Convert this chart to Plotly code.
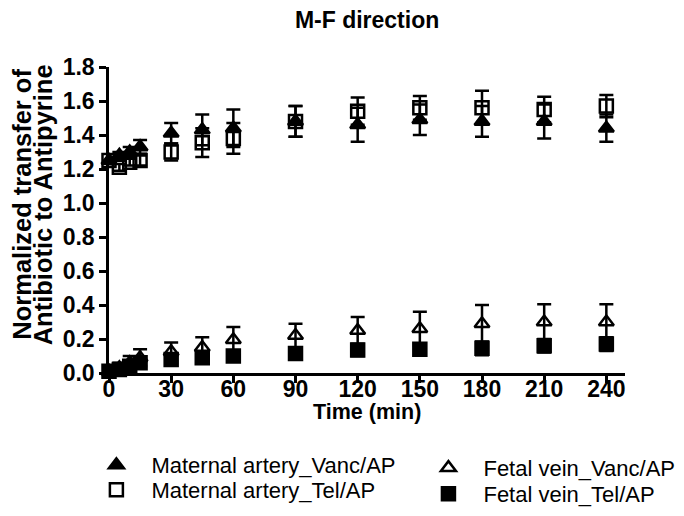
import plotly.graph_objects as go

# sampling times (min)
time_min = [0, 5, 10, 15, 30, 45, 60, 90, 120, 150, 180, 210, 240]

# Maternal artery, vancomycin / antipyrine
ma_vanc = [1.25, 1.28, 1.30, 1.33, 1.41, 1.43, 1.44, 1.48, 1.46, 1.49, 1.48, 1.48, 1.44]
ma_vanc_sd = [0.02, 0.02, 0.03, 0.04, 0.06, 0.09, 0.11, 0.09, 0.10, 0.09, 0.09, 0.10, 0.08]

# Maternal artery, telavancin / antipyrine
ma_tel = [1.25, 1.21, 1.24, 1.25, 1.30, 1.355, 1.38, 1.48, 1.54, 1.56, 1.56, 1.55, 1.57]
ma_tel_sd = [0.02, 0.02, 0.02, 0.03, 0.05, 0.085, 0.09, 0.09, 0.08, 0.07, 0.10, 0.075, 0.065]

# Fetal vein, vancomycin / antipyrine
fv_vanc = [0.01, 0.03, 0.06, 0.09, 0.125, 0.15, 0.195, 0.22, 0.25, 0.26, 0.29, 0.30, 0.30]
fv_vanc_sd = [0.01, 0.03, 0.04, 0.05, 0.055, 0.06, 0.075, 0.07, 0.08, 0.10, 0.11, 0.105, 0.105]

# Fetal vein, telavancin / antipyrine
fv_tel = [0.01, 0.02, 0.04, 0.06, 0.08, 0.09, 0.10, 0.115, 0.135, 0.14, 0.145, 0.16, 0.17]
fv_tel_sd = [0.01, 0.01, 0.02, 0.02, 0.025, 0.025, 0.03, 0.03, 0.035, 0.035, 0.04, 0.04, 0.04]

FONT = "Arial, Liberation Sans, sans-serif"

# (name, values, sd, symbol, legend id)
series = [
    ("Maternal artery_Vanc/AP", ma_vanc, ma_vanc_sd, "triangle-up", "legend"),
    ("Maternal artery_Tel/AP", ma_tel, ma_tel_sd, "square-open", "legend2"),
    ("Fetal vein_Vanc/AP", fv_vanc, fv_vanc_sd, "triangle-up-open", "legend3"),
    ("Fetal vein_Tel/AP", fv_tel, fv_tel_sd, "square", "legend4"),
]

fig = go.Figure()
for name, vals, sd, sym, leg in series:
    fig.add_trace(go.Scatter(
        x=time_min, y=vals, name=name, mode="markers",
        marker=dict(symbol=sym, size=13, color="black",
                    line=dict(color="black", width=2.5)),
        error_y=dict(type="data", array=sd, color="black", thickness=2.5, width=7),
        cliponaxis=False, legend=leg,
    ))

axis_common = dict(
    showline=True, linecolor="black", linewidth=2.5,
    ticks="outside", ticklen=7, tickwidth=2.5, tickcolor="black",
    tickfont=dict(size=23, family=FONT, weight="bold"),
    showgrid=False, zeroline=False,
)


def one_legend(x, y, itemwidth):
    return dict(x=x, y=y, xanchor="left", yanchor="middle", itemwidth=itemwidth,
                font=dict(size=22, family=FONT), tracegroupgap=0,
                bgcolor="rgba(0,0,0,0)")


# the page puts the figure 8px in from the top-left corner
fig.update_layout(
    width=684, height=516, showlegend=True,
    paper_bgcolor="white", plot_bgcolor="white",
    margin=dict(l=101, r=67, t=59, b=151, autoexpand=False),
    font=dict(family=FONT, color="black"),
    title=dict(text="<b>M-F direction</b>", x=0.525, xanchor="center",
               y=0.977, yanchor="middle", font=dict(size=23)),
    xaxis=dict(range=[0, 249], tickvals=[0, 30, 60, 90, 120, 150, 180, 210, 240],
               ticklabelstandoff=-13, **axis_common),
    yaxis=dict(range=[0, 1.8], tickvals=[0, 0.2, 0.4, 0.6, 0.8, 1.0, 1.2, 1.4, 1.6, 1.8],
               tickformat=".1f", **axis_common),
    legend=one_legend(-0.0535, -0.301, 60),
    legend2=one_legend(-0.0535, -0.382, 60),
    legend3=one_legend(0.590, -0.310, 60),
    legend4=one_legend(0.590, -0.395, 60),
    annotations=[
        dict(text="<b>Normalized transfer of</b>",
             xref="paper", yref="paper", x=-0.168, y=0.551, textangle=-90,
             xanchor="center", yanchor="middle", showarrow=False,
             font=dict(size=25.5)),
        dict(text="<b>Antibiotic to Antipyrine</b>",
             xref="paper", yref="paper", x=-0.128, y=0.551, textangle=-90,
             xanchor="center", yanchor="middle", showarrow=False,
             font=dict(size=25.5)),
        dict(text="<b>Time (min)</b>", xref="paper", yref="paper",
             x=0.5, y=-0.1275, xanchor="center", yanchor="middle",
             showarrow=False, font=dict(size=21.5)),
    ],
)

fig.write_html("out.html")
